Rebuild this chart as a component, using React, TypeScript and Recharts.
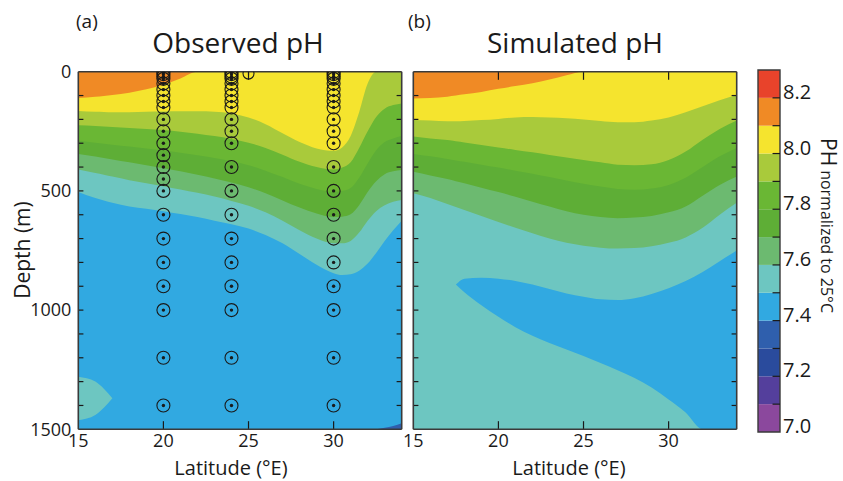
import { Area, CartesianGrid, ComposedChart, ReferenceArea, ReferenceLine, Scatter, XAxis, YAxis } from 'recharts';

const FONT = '"Open Sans", "Noto Sans", sans-serif';
const INK = '#1a1a1a';
const FRAME = '#3a3a3a';

// colours of the 0.1 pH classes, 7.0-7.1 first, 8.2-8.3 last
const bandColors = [
  '#8B489D', '#543F9C', '#2A4B9D', '#2F5FAD', '#31A9E1', '#6DC6C1', '#6CBA70',
  '#5EAE36', '#6AB734', '#A9CA3B', '#F5E42E', '#F08A25', '#E8432B',
];
const col = {
  ph73: bandColors[3], ph74: bandColors[4], ph75: bandColors[5], ph76: bandColors[6],
  ph77: bandColors[7], ph78: bandColors[8], ph79: bandColors[9], ph80: bandColors[10], ph81: bandColors[11],
};

// ---- (a) observed: depth (m) of each contour along latitude
const latA = [15, 16, 16.5, 17, 18, 19, 20, 21, 22, 23, 24, 25, 26, 27, 28, 29, 30, 30.5, 31, 31.5, 32, 32.5, 33, 33.5, 34];
const obs81 = [110, 105, 102, 98, 88, 74, 55, 28, 0, 0, 0, 0, 0, 0, 0, 0, 0, 0, 0, 0, 0, 0, 0, 0, 0];
const obs80 = [165, 168, 169, 170, 170, 168, 167, 166, 166, 168, 175, 192, 220, 258, 295, 322, 332, 318, 270, 170, 50, 0, 0, 0, 0];
const obs79 = [225, 228, 230, 232, 236, 240, 245, 252, 260, 270, 282, 298, 320, 348, 378, 400, 410, 402, 380, 320, 250, 190, 155, 140, 133];
const obs78 = [290, 298, 302, 306, 314, 322, 330, 340, 350, 362, 376, 392, 415, 442, 470, 492, 505, 500, 488, 445, 385, 330, 295, 280, 270];
const obs77 = [345, 356, 362, 368, 380, 392, 405, 418, 432, 448, 465, 485, 510, 540, 570, 595, 610, 608, 598, 560, 505, 460, 430, 418, 412];
const obs76 = [410, 425, 432, 440, 455, 468, 480, 494, 508, 524, 542, 562, 590, 625, 665, 700, 720, 720, 710, 675, 625, 585, 560, 545, 538];
const obs75 = [505, 530, 540, 550, 565, 575, 585, 597, 610, 625, 640, 658, 685, 720, 765, 810, 845, 853, 850, 835, 805, 760, 710, 665, 625];
// teal patch near the bottom-left corner, deep 7.3-7.4 sliver bottom-right
const obsPatchTop = [1280, 1300, 1330, 1370, null, null, null, null, null, null, null, null, null, null, null, null, null, null, null, null, null, null, null, null, null];
const obsPatchBot = [1462, 1440, 1410, 1370, null, null, null, null, null, null, null, null, null, null, null, null, null, null, null, null, null, null, null, null, null];
const obsDeepTop = [null, null, null, null, null, null, null, null, null, null, null, null, null, null, null, null, null, null, null, null, null, 1500, 1494, 1486, 1475];

// ---- (b) simulated
const latB = [15, 16, 17, 17.5, 18, 19, 20, 21, 22, 23, 24, 25, 26, 27, 28, 29, 30, 31, 32, 33, 34];
const sim81 = [112, 110, 105, 100, 95, 85, 72, 60, 48, 33, 15, 0, 0, 0, 0, 0, 0, 0, 0, 0, 0];
const sim80 = [203, 205, 208, 208, 207, 203, 198, 192, 190, 192, 195, 200, 207, 212, 212, 205, 192, 170, 145, 120, 98];
const sim79 = [272, 280, 287, 292, 297, 307, 318, 328, 338, 349, 360, 370, 380, 390, 392, 388, 370, 335, 285, 240, 205];
const sim78 = [345, 355, 366, 372, 378, 390, 402, 415, 428, 442, 456, 470, 482, 492, 495, 490, 475, 445, 400, 355, 320];
const sim77 = [420, 435, 450, 459, 468, 487, 505, 525, 545, 565, 585, 600, 610, 615, 612, 605, 590, 565, 520, 475, 440];
const sim76 = [510, 530, 555, 568, 580, 605, 630, 655, 678, 700, 718, 730, 738, 742, 740, 732, 718, 695, 655, 600, 550];
// low-pH (7.4-7.5) tongue
const simCoreTop = [null, null, null, 893, 868, 864, 868, 878, 893, 912, 930, 944, 955, 958, 950, 932, 908, 878, 840, 795, 750];
const simCoreBot = [null, null, null, 893, 925, 980, 1028, 1072, 1108, 1138, 1165, 1193, 1222, 1252, 1285, 1325, 1375, 1430, 1500, 1500, 1500];

// ---- sampling stations
const station20 = [0, 10, 20, 30, 50, 75, 100, 125, 150, 200, 250, 300, 350, 400, 450, 500, 600, 700, 800, 900, 1000, 1200, 1400];
const station24 = [0, 10, 20, 30, 50, 75, 100, 125, 150, 200, 250, 300, 400, 500, 600, 700, 800, 900, 1000, 1200, 1400];
const station30 = [0, 10, 20, 30, 50, 75, 100, 125, 150, 200, 250, 300, 400, 500, 600, 700, 800, 900, 1000, 1200, 1400];
const surfaceStation = [{ lat: 25, depth: 8 }];

// ---- axes / colour bar
const latTicks = [15, 20, 25, 30];
const depthLabels = [0, 500, 1000, 1500];
const depthMinor = [100, 200, 300, 400, 500, 600, 700, 800, 900, 1000, 1100, 1200, 1300, 1400];
const cbLevels = [7.0, 7.1, 7.2, 7.3, 7.4, 7.5, 7.6, 7.7, 7.8, 7.9, 8.0, 8.1, 8.2, 8.3];
const cbLabels = [7.0, 7.2, 7.4, 7.6, 7.8, 8.0, 8.2];

const rowsA = latA.map((lat, i) => ({
  lat, c81: obs81[i], c80: obs80[i], c79: obs79[i], c78: obs78[i], c77: obs77[i], c76: obs76[i], c75: obs75[i],
  patchTop: obsPatchTop[i], patchBot: obsPatchBot[i], deepTop: obsDeepTop[i],
}));
const rowsB = latB.map((lat, i) => ({
  lat, c81: sim81[i], c80: sim80[i], c79: sim79[i], c78: sim78[i], c77: sim77[i], c76: sim76[i],
  coreTop: simCoreTop[i], coreBot: simCoreBot[i],
}));
const stationPts = [
  ...station20.map((depth) => ({ lat: 20, depth })),
  ...station24.map((depth) => ({ lat: 24, depth })),
  ...station30.map((depth) => ({ lat: 30, depth })),
];

const MAXD = 1500;
const bandKeys: [string, string][] = [
  ['c81', col.ph80], ['c80', col.ph79], ['c79', col.ph78], ['c78', col.ph77], ['c77', col.ph76], ['c76', col.ph75],
];

const StationMark = (p: any) => (
  <g>
    <circle cx={p.cx} cy={p.cy} r={6.5} fill="none" stroke={INK} strokeWidth={1.1} />
    <circle cx={p.cx} cy={p.cy} r={1.7} fill={INK} />
  </g>
);
const SurfaceMark = (p: any) => (
  <g>
    <circle cx={p.cx} cy={p.cy} r={5.5} fill="none" stroke={INK} strokeWidth={1.1} />
    <line x1={p.cx} x2={p.cx} y1={p.cy - 5.5} y2={p.cy + 2} stroke={INK} strokeWidth={1.1} />
  </g>
);

const range = (lo: string, hi: string) => (r: any) => (r[lo] == null ? null : [r[lo], r[hi]]);

function inwardTicks() {
  const s = { stroke: INK, strokeWidth: 1.2 };
  return [
    ...latTicks.slice(1).map((t) => <ReferenceLine key={'xb' + t} segment={[{ x: t, y: MAXD }, { x: t, y: MAXD - 34 }]} {...s} />),
    ...latTicks.slice(1).map((t) => <ReferenceLine key={'xt' + t} segment={[{ x: t, y: 0 }, { x: t, y: 34 }]} {...s} />),
    ...depthMinor.map((d) => <ReferenceLine key={'yl' + d} segment={[{ x: 15, y: d }, { x: 15.3, y: d }]} {...s} />),
    ...depthMinor.map((d) => <ReferenceLine key={'yr' + d} segment={[{ x: 34, y: d }, { x: 33.7, y: d }]} {...s} />),
    <ReferenceLine key="f1" x={15} stroke={FRAME} strokeWidth={1.6} />,
    <ReferenceLine key="f2" x={34} stroke={FRAME} strokeWidth={1.6} />,
    <ReferenceLine key="f3" y={0} stroke={FRAME} strokeWidth={1.6} />,
    <ReferenceLine key="f4" y={MAXD} stroke={FRAME} strokeWidth={1.6} />,
  ];
}

const axisTick = { fontSize: 18, fill: INK, fontFamily: FONT };

function ObservedPanel() {
  return (
    <ComposedChart width={420} height={481} data={rowsA} margin={{ top: 71.7, right: 18.3, bottom: 11.7, left: 28.3 }}>
      <CartesianGrid fill={col.ph81} stroke="none" horizontal={false} vertical={false} />
      <XAxis type="number" dataKey="lat" domain={[15, 34]} ticks={latTicks} interval={0} allowDataOverflow
        height={40} tickLine={false} axisLine={false} tickSize={0} tickMargin={5} tick={axisTick} />
      <YAxis type="number" domain={[0, MAXD]} reversed ticks={depthLabels} interval={0} allowDataOverflow
        width={50} tickLine={false} axisLine={false} tickSize={0} tickMargin={7} tick={axisTick} />
      {[...bandKeys, ['c75', col.ph74] as [string, string]].map(([k, c]) => (
        <Area key={k} type="monotone" dataKey={k} baseValue={MAXD} stroke="none" fill={c} fillOpacity={1}
          dot={false} activeDot={false} isAnimationActive={false} />
      ))}
      <Area type="monotone" dataKey={range('patchTop', 'patchBot')} stroke="none" fill={col.ph75} fillOpacity={1}
        dot={false} activeDot={false} isAnimationActive={false} />
      <Area type="monotone" dataKey={(r: any) => (r.deepTop == null ? null : [r.deepTop, MAXD])} stroke="none" fill={col.ph73}
        fillOpacity={1} dot={false} activeDot={false} isAnimationActive={false} />
      {inwardTicks()}
      <Scatter data={stationPts} dataKey="depth" shape={StationMark} isAnimationActive={false} />
      <Scatter data={surfaceStation} dataKey="depth" shape={SurfaceMark} isAnimationActive={false} />
    </ComposedChart>
  );
}

function SimulatedPanel() {
  return (
    <ComposedChart width={350} height={481} data={rowsB} margin={{ top: 71.7, right: 13.3, bottom: 11.7, left: 13.3 }}>
      <CartesianGrid fill={col.ph81} stroke="none" horizontal={false} vertical={false} />
      <XAxis type="number" dataKey="lat" domain={[15, 34]} ticks={latTicks} interval={0} allowDataOverflow
        height={40} tickLine={false} axisLine={false} tickSize={0} tickMargin={5} tick={axisTick} />
      <YAxis type="number" domain={[0, MAXD]} reversed allowDataOverflow hide />
      {bandKeys.map(([k, c]) => (
        <Area key={k} type="monotone" dataKey={k} baseValue={MAXD} stroke="none" fill={c} fillOpacity={1}
          dot={false} activeDot={false} isAnimationActive={false} />
      ))}
      <Area type="monotone" dataKey={range('coreTop', 'coreBot')} stroke="none" fill={col.ph74} fillOpacity={1}
        dot={false} activeDot={false} isAnimationActive={false} />
      {inwardTicks()}
    </ComposedChart>
  );
}

const CbTick = (p: any) => (
  <text x={p.x} y={p.y + 1} textAnchor="start" fontSize={20} fill={INK} fontFamily={FONT}>
    {Number(p.payload.value).toFixed(1)}
  </text>
);

function ColorBar() {
  const rows = cbLevels.map((v) => ({ x: 0.5, v }));
  return (
    <ComposedChart width={103} height={481} data={rows} margin={{ top: 70, right: 0, bottom: 49, left: 18 }}>
      <XAxis type="number" dataKey="x" domain={[0, 1]} hide />
      <YAxis type="number" orientation="right" domain={[7.0, 8.3]} ticks={cbLabels} interval={0} allowDataOverflow
        width={63} tickLine={false} axisLine={false} tickSize={0} tickMargin={3} tick={<CbTick />} />
      {bandColors.map((c, i) => (
        <ReferenceArea key={i} y1={cbLevels[i]} y2={cbLevels[i + 1]} fill={c} fillOpacity={1} stroke="none" />
      ))}
      {cbLevels.slice(1, -1).map((v) => (
        <ReferenceLine key={v} segment={[{ x: 0.66, y: v }, { x: 1, y: v }]} stroke={INK} strokeWidth={1.2} />
      ))}
      <ReferenceArea y1={7.0} y2={8.3} fill="none" stroke={FRAME} strokeWidth={1.4} />
    </ComposedChart>
  );
}

export default function App() {
  const t = { fontFamily: FONT, fill: INK } as const;
  return (
    <div style={{ position: 'absolute', left: 0, top: 0, width: 843, height: 481, background: '#fff', overflow: 'hidden' }}>
      <div style={{ position: 'absolute', left: 0, top: 0 }}><ObservedPanel /></div>
      <div style={{ position: 'absolute', left: 400, top: 0 }}><SimulatedPanel /></div>
      <div style={{ position: 'absolute', left: 740, top: 0 }}><ColorBar /></div>
      <svg width={843} height={481} style={{ position: 'absolute', left: 0, top: 0, pointerEvents: 'none' }}>
        <text x={76} y={28} fontSize={19} {...t}>(a)</text>
        <text x={408} y={28} fontSize={19} {...t}>(b)</text>
        <text x={238} y={53} fontSize={28} textAnchor="middle" {...t}>Observed pH</text>
        <text x={575} y={53} fontSize={28} textAnchor="middle" {...t}>Simulated pH</text>
        <text x={231} y={475} fontSize={20} textAnchor="middle" {...t}>Latitude (°E)</text>
        <text x={569} y={475} fontSize={20} textAnchor="middle" {...t}>Latitude (°E)</text>
        <text x={22} y={250} fontSize={21} textAnchor="middle" dominantBaseline="central" transform="rotate(-90 22 250)" {...t}>Depth (m)</text>
        <text x={821} y={138} transform="rotate(90 821 138)" {...t}>
          <tspan fontSize={21}>PH</tspan>
          <tspan fontSize={16} dx={4}>normalized to 25°C</tspan>
        </text>
      </svg>
    </div>
  );
}
